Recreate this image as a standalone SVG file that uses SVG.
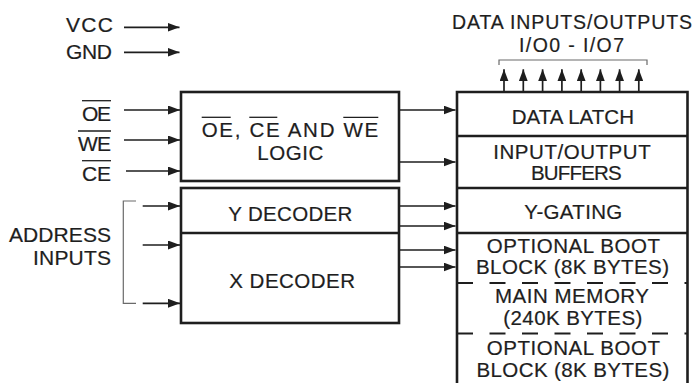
<svg xmlns="http://www.w3.org/2000/svg" width="696" height="383" viewBox="0 0 696 383">
<style>
text{font-family:"Liberation Sans",Arial,sans-serif;font-size:20.5px;fill:#1e1e1e;stroke:#1e1e1e;stroke-width:0.2}
.sm{font-size:19.5px}
.lg{font-size:21px}
.box{fill:none;stroke:#1e1e1e;stroke-width:2.6}
.div{stroke:#1e1e1e;stroke-width:2.4}
.dash{stroke:#1e1e1e;stroke-width:2;stroke-dasharray:16 16.5}
.ov{stroke:#1e1e1e;stroke-width:1.3}
.arr{stroke:#1e1e1e;stroke-width:1.7;fill:none;marker-end:url(#ah)}
.brk{stroke:#6a6a6a;stroke-width:1.2;fill:none}
</style>
<defs>
<marker id="ah" markerUnits="userSpaceOnUse" markerWidth="13" markerHeight="9" refX="12" refY="4.5" orient="auto">
<path d="M0,0 L12,4.5 L0,9 Z" fill="#1e1e1e"/>
</marker>
</defs>

<g id="power">
<text class="lg" x="66" y="31.5" textLength="47" lengthAdjust="spacing">VCC</text>
<text class="lg" x="66" y="59" textLength="46" lengthAdjust="spacing">GND</text>
</g>

<g id="data-io-label">
<text class="sm" x="452" y="28.5" textLength="240" lengthAdjust="spacing">DATA INPUTS/OUTPUTS</text>
<text class="sm" x="519" y="52" textLength="105" lengthAdjust="spacing">I/O0 - I/O7</text>
<path class="brk" d="M499,65 V60 H647 V65"/>
</g>

<g id="control-labels">
<text class="lg" x="82" y="120.5" textLength="29" lengthAdjust="spacing">OE</text>
<line class="ov" x1="82" y1="100.7" x2="111" y2="100.7"/>
<text class="lg" x="78" y="150.5" textLength="33" lengthAdjust="spacing">WE</text>
<line class="ov" x1="78" y1="131" x2="111" y2="131"/>
<text class="lg" x="82" y="180.5" textLength="29" lengthAdjust="spacing">CE</text>
<line class="ov" x1="82" y1="160.7" x2="111" y2="160.7"/>
</g>

<g id="address-label">
<text class="lg" x="9" y="241.5" textLength="102" lengthAdjust="spacing">ADDRESS</text>
<text class="lg" x="33" y="264.5" textLength="78" lengthAdjust="spacing">INPUTS</text>
<path class="brk" d="M136,201 H123.3 V303.3 H136"/>
</g>

<g id="logic">
<rect class="box" x="181" y="92" width="218" height="89"/>
<text x="201.7" y="136.5" textLength="176.6" lengthAdjust="spacing">OE,  CE  AND  WE</text>
<line class="ov" x1="201.7" y1="117.3" x2="230.7" y2="117.3"/>
<line class="ov" x1="249.3" y1="117.3" x2="277.3" y2="117.3"/>
<line class="ov" x1="343.3" y1="117.3" x2="378.3" y2="117.3"/>
<text x="257.3" y="160" textLength="66" lengthAdjust="spacing">LOGIC</text>
</g>

<g id="decoders">
<rect class="box" x="181" y="188" width="218" height="135"/>
<line class="div" x1="181" y1="233" x2="399" y2="233"/>
<text x="228.3" y="220.5" textLength="124" lengthAdjust="spacing">Y DECODER</text>
<text x="229.3" y="287.5" textLength="125.7" lengthAdjust="spacing">X DECODER</text>
</g>

<g id="memory">
<path class="box" d="M457,383 V92 H687.5 V383"/>
<line class="div" x1="457" y1="136" x2="687.5" y2="136"/>
<line class="div" x1="457" y1="188" x2="687.5" y2="188"/>
<line class="div" x1="457" y1="233" x2="687.5" y2="233"/>
<line class="dash" x1="457" y1="283" x2="688" y2="283"/>
<line class="dash" x1="457" y1="333.5" x2="688" y2="333.5"/>
<text x="511.7" y="123.5" textLength="122.3" lengthAdjust="spacing">DATA LATCH</text>
<text x="493.3" y="159" textLength="157.4" lengthAdjust="spacing">INPUT/OUTPUT</text>
<text x="531" y="180" textLength="90.7" lengthAdjust="spacing">BUFFERS</text>
<text x="524.3" y="218.5" textLength="98" lengthAdjust="spacing">Y-GATING</text>
<text x="486.7" y="252.5" textLength="173.3" lengthAdjust="spacing">OPTIONAL BOOT</text>
<text x="476" y="273.5" textLength="193" lengthAdjust="spacing">BLOCK (8K BYTES)</text>
<text x="495" y="303.3" textLength="154" lengthAdjust="spacing">MAIN MEMORY</text>
<text x="503.3" y="324.5" textLength="139" lengthAdjust="spacing">(240K BYTES)</text>
<text x="486.7" y="355" textLength="173.3" lengthAdjust="spacing">OPTIONAL BOOT</text>
<text x="476.5" y="376.5" textLength="192.8" lengthAdjust="spacing">BLOCK (8K BYTES)</text>
</g>

<g id="connectors">
<line class="arr" x1="124" y1="27.3" x2="179.5" y2="27.3"/>
<line class="arr" x1="124" y1="52.3" x2="179.5" y2="52.3"/>
<line class="arr" x1="124" y1="110" x2="180" y2="110"/>
<line class="arr" x1="124" y1="140" x2="180" y2="140"/>
<line class="arr" x1="126" y1="171" x2="180" y2="171"/>
<line class="arr" x1="142.7" y1="206" x2="180" y2="206"/>
<line class="arr" x1="142.7" y1="245" x2="180" y2="245"/>
<line class="arr" x1="142.7" y1="303.3" x2="180" y2="303.3"/>
<line class="arr" x1="400" y1="110" x2="455.5" y2="110"/>
<line class="arr" x1="400" y1="162" x2="455.5" y2="162"/>
<line class="arr" x1="400" y1="206" x2="455.5" y2="206"/>
<line class="arr" x1="400" y1="226" x2="455.5" y2="226"/>
<line class="arr" x1="400" y1="250" x2="455.5" y2="250"/>
<line class="arr" x1="400" y1="267" x2="455.5" y2="267"/>
<line class="arr" x1="504" y1="91" x2="504" y2="69.3"/>
<line class="arr" x1="523.3" y1="91" x2="523.3" y2="69.3"/>
<line class="arr" x1="542.6" y1="91" x2="542.6" y2="69.3"/>
<line class="arr" x1="561.9" y1="91" x2="561.9" y2="69.3"/>
<line class="arr" x1="581.2" y1="91" x2="581.2" y2="69.3"/>
<line class="arr" x1="600.4" y1="91" x2="600.4" y2="69.3"/>
<line class="arr" x1="619.6" y1="91" x2="619.6" y2="69.3"/>
<line class="arr" x1="638.8" y1="91" x2="638.8" y2="69.3"/>
</g>
</svg>
